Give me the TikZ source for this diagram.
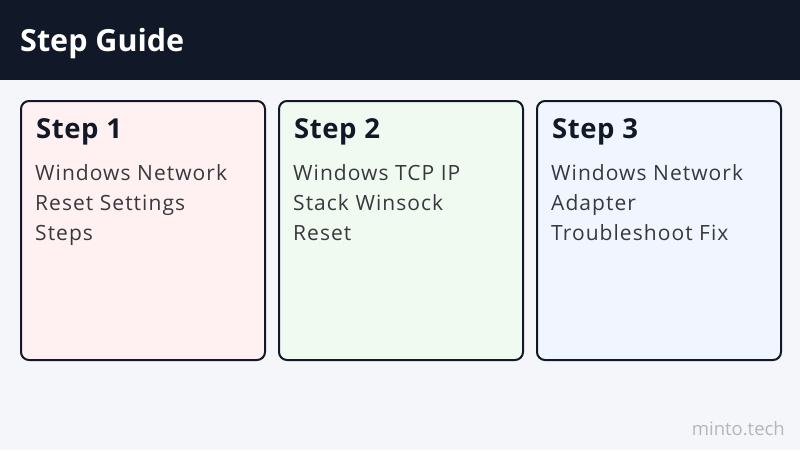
\documentclass[tikz,border=0pt]{standalone}
\usepackage{fontspec}
\setmainfont{Open Sans}
\newfontfamily\bodyfont{Open Sans}[LetterSpace=5]
\newfontfamily\headfont{Open Sans}[LetterSpace=2]
\definecolor{bg}{HTML}{F5F6FA}
\definecolor{navy}{HTML}{111827}
\definecolor{pinkf}{HTML}{FFF1F1}
\definecolor{greenf}{HTML}{F1FAF1}
\definecolor{bluef}{HTML}{F1F5FF}
\definecolor{bodytxt}{HTML}{38383E}
\definecolor{wm}{HTML}{B4B6BE}
\tikzset{
  card/.style={draw=navy, line width=2pt, rounded corners=8pt},
  cardtitle/.style={anchor=base west, inner sep=0pt, text=navy, font=\headfont\fontsize{27.5}{30}\selectfont\bfseries},
  cardbody/.style={anchor=base west, inner sep=0pt, text=bodytxt, font=\bodyfont\fontsize{21}{30}\selectfont},
}
\begin{document}
\begin{tikzpicture}[x=1pt,y=-1pt]
\fill[bg] (0,0) rectangle (800,450);
\useasboundingbox (0,0) rectangle (800,450);
\fill[navy] (0,0) rectangle (800,80);
\node[anchor=base west, inner sep=0pt, text=white, font=\fontsize{30.5}{34}\selectfont\bfseries] (title) at (20,51) {Step Guide};
\draw[card, fill=pinkf] (21,101) rectangle (265,360);
\draw[card, fill=greenf] (279,101) rectangle (523,360);
\draw[card, fill=bluef] (537,101) rectangle (781,360);
\node[cardtitle] (t1) at (36,138) {Step 1};
\node[cardtitle] (t2) at (294,138) {Step 2};
\node[cardtitle] (t3) at (552,138) {Step 3};
\node[cardbody] (b1a) at (35,180) {Windows Network};
\node[cardbody] (b1b) at (35,210) {Reset Settings};
\node[cardbody] (b1c) at (35,240) {Steps};
\node[cardbody] (b2a) at (293,180) {Windows TCP IP};
\node[cardbody] (b2b) at (293,210) {Stack Winsock};
\node[cardbody] (b2c) at (293,240) {Reset};
\node[cardbody] (b3a) at (551,180) {Windows Network};
\node[cardbody] (b3b) at (551,210) {Adapter};
\node[cardbody] (b3c) at (551,240) {Troubleshoot Fix};
\node[anchor=base east, inner sep=0pt, text=wm, font=\fontsize{18.5}{20}\selectfont] (wmark) at (785,435) {minto.tech};
\end{tikzpicture}
\end{document}
